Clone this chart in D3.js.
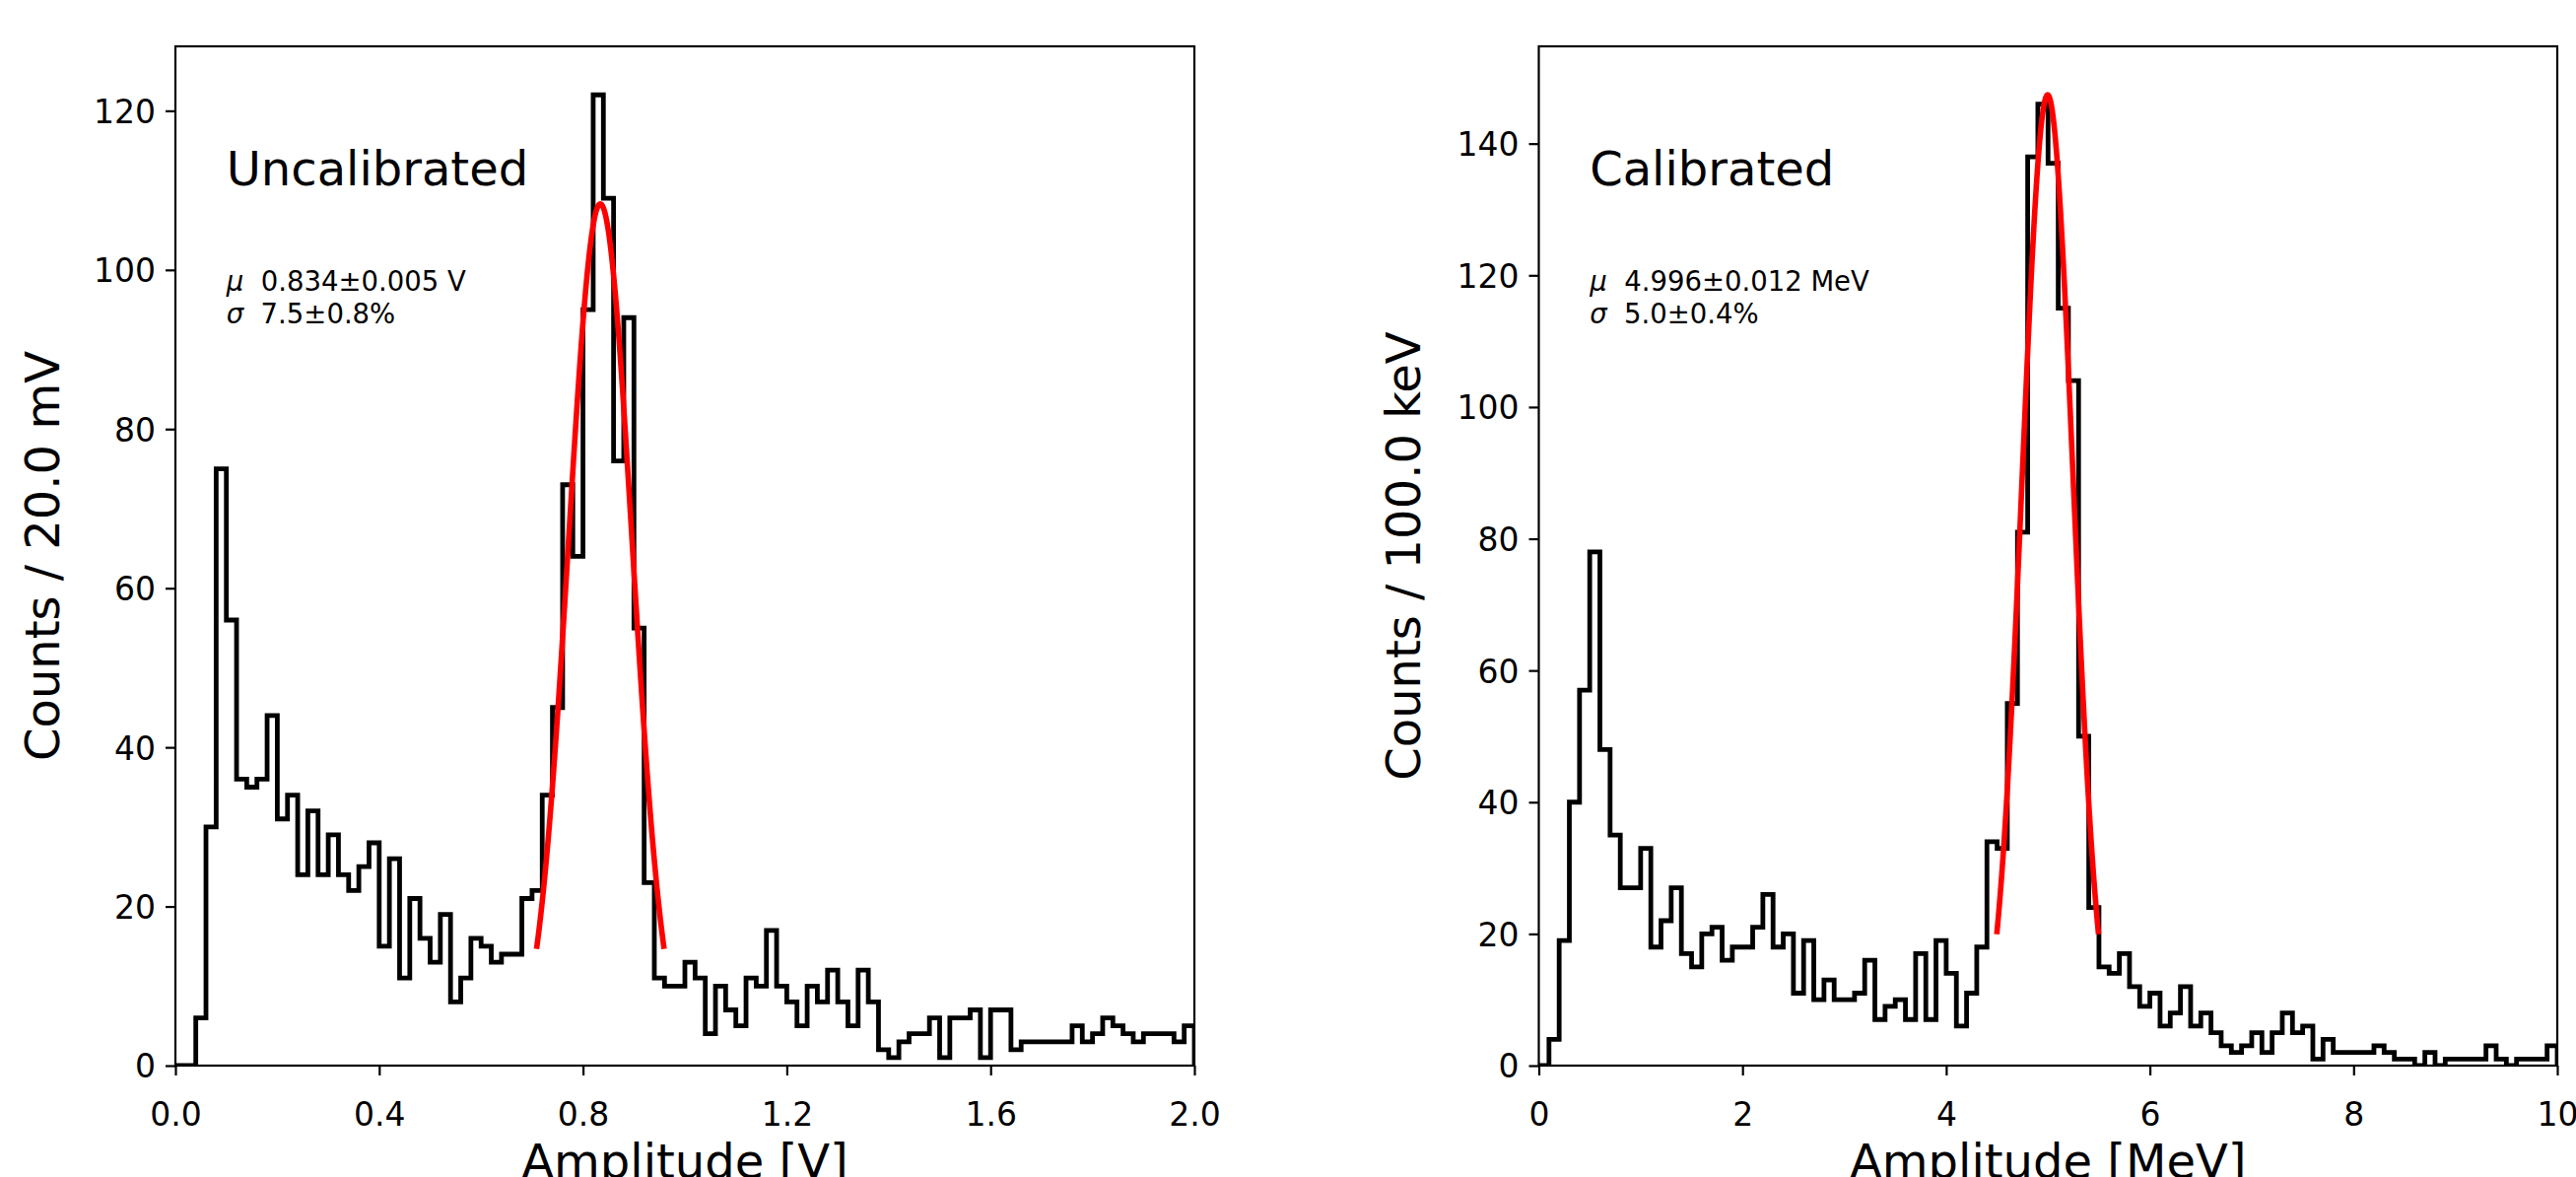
<!DOCTYPE html>
<html>
<head>
<meta charset="utf-8">
<script src="https://cdn.jsdelivr.net/npm/d3@7"></script>
<style>
  html, body { margin: 0; padding: 0; background: #ffffff; }
  svg { display: block; }
  text { font-family: "DejaVu Sans", sans-serif; fill: #000; }
</style>
</head>
<body>
<svg id="chart" width="2614" height="1194"></svg>
<script>
// ---------------- data ----------------
const leftCounts = [
  0, 0, 6, 30, 75, 56, 36, 35, 36, 44,
  31, 34, 24, 32, 24, 29, 24, 22, 25, 28,
  15, 26, 11, 21, 16, 13, 19, 8, 11, 16,
  15, 13, 14, 14, 21, 22, 34, 45, 73, 64,
  95, 122, 109, 76, 94, 55, 23, 11, 10, 10,
  13, 11, 4, 10, 7, 5, 11, 10, 17, 10,
  8, 5, 10, 8, 12, 8, 5, 12, 8, 2,
  1, 3, 4, 4, 6, 1, 6, 6, 7, 1,
  7, 7, 2, 3, 3, 3, 3, 3, 5, 3,
  4, 6, 5, 4, 3, 4, 4, 4, 3, 5
];
const rightCounts = [
  0, 4, 19, 40, 57, 78, 48, 35, 27, 27,
  33, 18, 22, 27, 17, 15, 20, 21, 16, 18,
  18, 21, 26, 18, 20, 11, 19, 10, 13, 10,
  10, 11, 16, 7, 9, 10, 7, 17, 7, 19,
  14, 6, 11, 18, 34, 33, 55, 81, 138, 146,
  137, 115, 104, 50, 24, 15, 14, 17, 12, 9,
  11, 6, 8, 12, 6, 8, 5, 3, 2, 3,
  5, 2, 5, 8, 5, 6, 1, 4, 2, 2,
  2, 2, 3, 2, 1, 1, 0, 2, 0, 1,
  1, 1, 1, 3, 1, 0, 1, 1, 1, 3
];
const xRanges = [[0, 2.0], [0, 10]];
const leftXTicks = [0.0, 0.4, 0.8, 1.2, 1.6, 2.0];
const rightXTicks = [0, 2, 4, 6, 8, 10];
const leftYTicks = [0, 20, 40, 60, 80, 100, 120];
const rightYTicks = [0, 20, 40, 60, 80, 100, 120, 140];
// Gaussian fit parameters: mean, sigma, amplitude (counts)
const fitMu = [0.834, 4.996];
const fitSigma = [0.0626, 0.2498];
const fitAmp = [108.3, 147.4];
const titles = ["Uncalibrated", "Calibrated"];
const muLabels = ["0.834\u00b10.005 V", "4.996\u00b10.012 MeV"];
const sigmaLabels = ["7.5\u00b10.8%", "5.0\u00b10.4%"];
const xLabels = ["Amplitude [V]", "Amplitude [MeV]"];
const yLabels = ["Counts / 20.0 mV", "Counts / 100.0 keV"];

// ---------------- layout ----------------
const svg = d3.select("#chart");
svg.append("rect").attr("width", 2614).attr("height", 1194).attr("fill", "#fff");

const panels = [
  { x0: 178, x1: 1212, counts: leftCounts, xt: leftXTicks, yt: leftYTicks,
    fmt: d3.format(".1f"), ylabX: 60 },
  { x0: 1561.5, x1: 2595, counts: rightCounts, xt: rightXTicks, yt: rightYTicks,
    fmt: d3.format("d"), ylabX: 1441 }
];
const plotTop = 47, plotBottom = 1081;

panels.forEach((p, k) => {
  const g = svg.append("g");
  const counts = p.counts;
  const n = counts.length;
  const [xa, xb] = xRanges[k];
  const ymax = 1.05 * Math.max(d3.max(counts), fitAmp[k]);
  const x = d3.scaleLinear().domain([xa, xb]).range([p.x0, p.x1]);
  const y = d3.scaleLinear().domain([0, ymax]).range([plotBottom, plotTop]);

  const clipId = "clip" + k;
  svg.append("defs").append("clipPath").attr("id", clipId)
    .append("rect").attr("x", p.x0).attr("y", plotTop)
    .attr("width", p.x1 - p.x0).attr("height", plotBottom - plotTop);

  // histogram (step)
  const bw = (xb - xa) / n;
  const pts = [[xa, 0]];
  counts.forEach((c, i) => pts.push([xa + i * bw, c]));
  pts.push([xb, counts[n - 1]]);
  pts.push([xb, 0]);
  const line = d3.line().x(d => x(d[0])).y(d => y(d[1])).curve(d3.curveStepAfter);
  g.append("path").attr("d", line(pts))
    .attr("fill", "none").attr("stroke", "#000").attr("stroke-width", 4.8)
    .attr("stroke-linejoin", "miter").attr("clip-path", `url(#${clipId})`);

  // gaussian fit curve over mu +/- 2 sigma
  const lo = fitMu[k] - 2 * fitSigma[k], hi = fitMu[k] + 2 * fitSigma[k];
  const fpts = d3.range(0, 201).map(j => {
    const xv = lo + (hi - lo) * j / 200;
    const z = (xv - fitMu[k]) / fitSigma[k];
    return [xv, fitAmp[k] * Math.exp(-0.5 * z * z)];
  });
  g.append("path").attr("d", d3.line().x(d => x(d[0])).y(d => y(d[1]))(fpts))
    .attr("fill", "none").attr("stroke", "#ff0000").attr("stroke-width", 5.6)
    .attr("clip-path", `url(#${clipId})`);

  // axes
  const xAxis = g.append("g").attr("transform", `translate(0,${plotBottom})`)
    .call(d3.axisBottom(x).tickValues(p.xt).tickFormat(p.fmt).tickSize(10).tickSizeOuter(0));
  xAxis.select(".domain").remove();
  xAxis.selectAll(".tick line").attr("stroke", "#000").attr("stroke-width", 2.2);
  xAxis.selectAll(".tick text").attr("y", 61).attr("dy", 0)
    .style("font-size", "33px").style("font-family", "DejaVu Sans");

  const yAxis = g.append("g").attr("transform", `translate(${p.x0},0)`)
    .call(d3.axisLeft(y).tickValues(p.yt).tickFormat(d3.format("d")).tickSize(10).tickSizeOuter(0));
  yAxis.select(".domain").remove();
  yAxis.selectAll(".tick line").attr("stroke", "#000").attr("stroke-width", 2.2);
  yAxis.selectAll(".tick text").attr("x", -20).attr("dy", "0.36em")
    .style("font-size", "33px").style("font-family", "DejaVu Sans");

  // frame
  g.append("rect").attr("x", p.x0).attr("y", plotTop)
    .attr("width", p.x1 - p.x0).attr("height", plotBottom - plotTop)
    .attr("fill", "none").attr("stroke", "#000").attr("stroke-width", 2.2);

  // annotations
  const tx = p.x0 + 0.05 * (p.x1 - p.x0);
  g.append("text").attr("x", tx).attr("y", 188)
    .style("font-size", "48px").text(titles[k]);
  const t1 = g.append("text").attr("x", tx).attr("y", 295)
    .style("font-size", "27.5px").style("white-space", "pre");
  t1.append("tspan").style("font-style", "italic").text("\u03bc");
  t1.append("tspan").text("  " + muLabels[k]);
  const t2 = g.append("text").attr("x", tx).attr("y", 328)
    .style("font-size", "27.5px").style("white-space", "pre");
  t2.append("tspan").style("font-style", "italic").text("\u03c3");
  t2.append("tspan").text("  " + sigmaLabels[k]);

  // axis labels
  g.append("text").attr("x", (p.x0 + p.x1) / 2).attr("y", 1195)
    .attr("text-anchor", "middle").style("font-size", "48px").text(xLabels[k]);
  g.append("text")
    .attr("transform", `translate(${p.ylabX},${(plotTop + plotBottom) / 2}) rotate(-90)`)
    .attr("text-anchor", "middle").style("font-size", "48px").text(yLabels[k]);
});
</script>
</body>
</html>
